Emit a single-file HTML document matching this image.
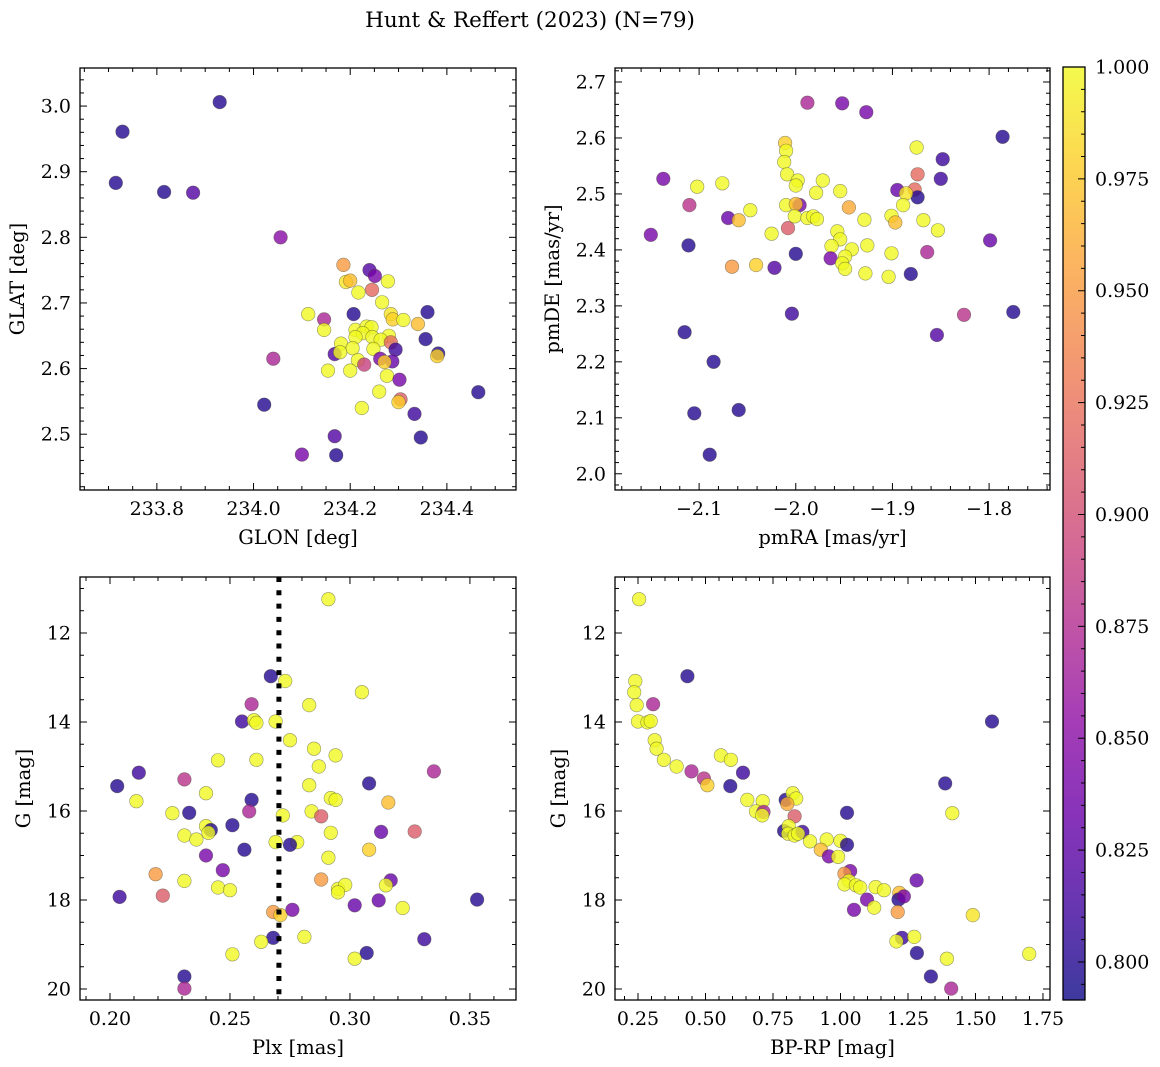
<!DOCTYPE html>
<html><head><meta charset="utf-8"><style>
body{margin:0;background:#fff;}
svg{display:block;font-family:"DejaVu Serif","Liberation Serif",serif;}
</style></head><body>
<svg id="fig" width="1160" height="1067" viewBox="0 0 1160 1067" xmlns="http://www.w3.org/2000/svg">
<text x="530" y="27" font-size="21.5" text-anchor="middle">Hunt &amp; Reffert (2023) (N=79)</text>
</svg>
<script>
// Panel 1: GLON vs GLAT
const glon1=[233.729,233.715,233.930,233.815,233.875,234.056,234.186,234.240,234.251,234.191,234.200,234.278,234.245,234.217,234.266,234.113,234.207,234.360,234.284,234.146,234.288,234.310,234.340,234.146,234.211,234.234,234.244,234.226,234.246,234.211,234.280,234.356,234.263,234.284,234.181,234.205,234.248,234.294,234.168,234.179,234.382,234.380,234.216,234.041,234.262,234.287,234.271,234.229,234.154,234.200,234.276,234.302,234.465,234.260,234.304,234.300,234.224,234.022,234.333,234.168,234.346,234.100,234.171];
const glat1=[2.961,2.883,3.006,2.869,2.868,2.800,2.758,2.750,2.741,2.732,2.734,2.733,2.720,2.716,2.701,2.683,2.683,2.686,2.683,2.675,2.675,2.674,2.668,2.659,2.659,2.664,2.663,2.654,2.648,2.648,2.650,2.645,2.644,2.640,2.638,2.631,2.630,2.629,2.622,2.625,2.623,2.619,2.613,2.615,2.615,2.611,2.610,2.606,2.597,2.597,2.589,2.583,2.564,2.565,2.553,2.549,2.540,2.545,2.531,2.497,2.495,2.469,2.468];
const prob1=[.80,.80,.80,.80,.82,.85,.95,.82,.84,.99,.97,1,.92,1,1,1,.80,.80,.99,.87,.98,1,.97,1,1,1,1,1,1,1,1,.80,1,.92,1,1,1,.81,.82,1,.80,.98,1,.87,.84,.83,.98,.89,1,1,1,.84,.80,1,.91,.98,1,.80,.81,.82,.80,.84,.80];
// Panel 2: pmRA vs pmDE
const pmra2=[-1.988,-1.952,-1.927,-1.786,-1.875,-2.011,-2.010,-2.012,-1.848,-2.137,-2.102,-2.076,-2.009,-1.998,-1.972,-2.000,-1.979,-1.954,-1.874,-1.850,-1.895,-1.877,-1.874,-1.886,-2.110,-2.070,-2.059,-2.047,-2.010,-1.996,-2.000,-2.001,-1.988,-1.982,-1.978,-1.945,-1.929,-1.901,-1.897,-1.889,-1.868,-1.853,-2.150,-2.111,-2.025,-2.008,-1.957,-1.954,-1.963,-1.942,-2.000,-1.926,-1.901,-1.864,-1.799,-1.964,-1.949,-1.952,-1.949,-2.066,-2.041,-2.022,-1.928,-1.904,-1.881,-2.004,-1.826,-1.775,-2.115,-1.854,-2.085,-2.105,-2.059,-2.089];
const pmde2=[2.663,2.662,2.646,2.602,2.583,2.591,2.577,2.557,2.562,2.527,2.513,2.519,2.535,2.524,2.524,2.515,2.502,2.505,2.535,2.527,2.507,2.508,2.494,2.501,2.480,2.457,2.453,2.471,2.480,2.480,2.482,2.460,2.457,2.460,2.455,2.476,2.454,2.461,2.449,2.480,2.453,2.435,2.427,2.408,2.429,2.439,2.433,2.419,2.407,2.401,2.393,2.408,2.394,2.396,2.417,2.385,2.388,2.376,2.366,2.370,2.373,2.368,2.358,2.352,2.357,2.286,2.284,2.289,2.253,2.248,2.200,2.108,2.114,2.034];
const prob2=[.87,.84,.84,.80,1,.98,1,1,.81,.84,1,1,1,1,1,1,1,1,.92,.81,.83,.92,.80,.99,.88,.83,.97,1,1,.84,.97,1,1,1,1,.96,1,1,.97,1,1,1,.84,.80,1,.91,1,1,1,1,.80,1,1,.87,.83,.84,1,1,1,.95,.98,.82,1,1,.80,.81,.88,.80,.80,.82,.80,.80,.80,.80];
// Panel 3: Plx vs G
const plx3=[0.291,0.267,0.273,0.305,0.259,0.283,0.255,0.260,0.261,0.269,0.275,0.285,0.294,0.245,0.261,0.287,0.212,0.335,0.203,0.231,0.308,0.240,0.283,0.259,0.292,0.294,0.211,0.316,0.226,0.233,0.258,0.284,0.272,0.288,0.251,0.240,0.242,0.241,0.231,0.236,0.292,0.313,0.327,0.269,0.278,0.275,0.256,0.308,0.240,0.291,0.247,0.219,0.231,0.288,0.317,0.315,0.245,0.250,0.295,0.298,0.295,0.204,0.222,0.353,0.312,0.302,0.322,0.268,0.271,0.276,0.268,0.263,0.281,0.331,0.251,0.307,0.302,0.231,0.231];
const gmag3=[11.24,12.97,13.08,13.33,13.60,13.62,13.99,13.96,14.02,13.99,14.41,14.60,14.75,14.86,14.85,15.00,15.14,15.11,15.44,15.29,15.38,15.60,15.42,15.75,15.71,15.75,15.78,15.81,16.05,16.04,16.01,16.01,16.10,16.12,16.32,16.34,16.43,16.49,16.55,16.64,16.49,16.47,16.46,16.70,16.70,16.76,16.87,16.87,17.00,17.05,17.33,17.42,17.57,17.54,17.56,17.67,17.72,17.78,17.75,17.66,17.83,17.93,17.90,17.99,18.01,18.12,18.18,18.27,18.34,18.22,18.85,18.94,18.83,18.88,19.22,19.19,19.32,19.72,19.99];
const prob3=[1,.80,1,1,.87,1,.81,1,1,1,1,1,1,1,1,1,.81,.87,.80,.88,.80,1,1,.80,1,1,1,.97,1,.80,.87,1,1,.91,.80,1,.80,1,1,1,1,.83,.91,1,1,.80,.80,.98,.84,1,.84,.95,1,.95,.83,1,1,1,1,1,1,.81,.91,.80,.83,.83,1,.95,.98,.84,.80,1,1,.81,1,.80,1,.80,.87];
const plxLine=[0.2704];
// Panel 4: BP-RP vs G
const bprp4=[0.254,0.433,0.240,0.236,0.306,0.245,0.250,0.285,0.297,1.561,0.312,0.319,0.346,0.557,0.594,0.393,0.448,0.639,0.494,0.507,0.592,1.388,0.655,0.712,0.797,0.823,0.836,0.803,0.687,0.715,0.710,1.024,1.414,0.830,0.791,0.808,0.806,0.830,0.859,0.843,0.887,0.949,1.000,1.024,0.927,0.957,0.991,1.036,1.015,1.031,1.015,1.057,1.073,1.130,1.161,1.282,1.218,1.215,1.235,1.098,1.125,1.050,1.212,1.490,1.228,1.207,1.273,1.283,1.394,1.699,1.335,1.410];
const gmag4=[11.24,12.97,13.08,13.33,13.60,13.62,13.99,14.01,13.98,13.99,14.41,14.60,14.85,14.75,14.85,15.00,15.11,15.14,15.27,15.42,15.44,15.38,15.75,15.78,15.75,15.60,15.72,15.84,16.01,16.02,16.10,16.04,16.05,16.12,16.45,16.34,16.51,16.55,16.47,16.51,16.68,16.64,16.67,16.76,16.87,17.02,17.03,17.35,17.41,17.57,17.65,17.67,17.72,17.71,17.78,17.56,17.84,17.99,17.92,17.99,18.17,18.22,18.27,18.34,18.85,18.93,18.83,19.19,19.32,19.21,19.72,19.99];
const prob4=[1,.80,1,1,.87,1,1,1,1,.80,1,1,1,1,1,1,.87,.81,.88,.98,.80,.80,1,1,.80,1,1,.96,1,.87,1,.80,1,.91,.80,1,1,1,.81,1,1,1,1,.80,.97,.84,1,.84,.95,1,1,1,1,1,1,.83,.97,.80,.84,.84,1,.84,.95,.99,.81,1,1,.80,1,1,.80,.87];
const cbTicks=[0.800,0.825,0.850,0.875,0.900,0.925,0.950,0.975,1.000];

const svg=document.getElementById('fig');
const NS='http://www.w3.org/2000/svg';
const VMIN=0.7915,VMAX=1.0;
const TICKFS=19, LABELFS=19.5;
const plasma=[[13,8,135],[65,4,157],[106,0,168],[143,13,164],[177,42,144],[204,71,120],[225,100,98],[242,132,75],[252,166,54],[252,206,37],[240,249,33]];
function cmap(v){let t=(v-VMIN)/(VMAX-VMIN);t=Math.max(0,Math.min(1,t))*10;const i=Math.min(9,Math.floor(t));const f=t-i;const a=plasma[i],b=plasma[i+1];return 'rgb('+[0,1,2].map(k=>Math.round(a[k]+(b[k]-a[k])*f)).join(',')+')';}
function mk(tag,attrs,parent){const e=document.createElementNS(NS,tag);for(const k in attrs)e.setAttribute(k,attrs[k]);(parent||svg).appendChild(e);return e;}
function fmt(v,d){return v.toFixed(d).replace('-','\u2212');}

function panel(cfg){
  const {x0,x1,y0,y1,xmin,xmax,ymin,ymax,inv}=cfg;
  const g=mk('g',{});
  
  
  const sx=v=>x0+(v-xmin)/(xmax-xmin)*(x1-x0);
  const sy=inv?(v=>y0+(v-ymin)/(ymax-ymin)*(y1-y0)):(v=>y1-(v-ymin)/(ymax-ymin)*(y1-y0));
  const pg=mk('g',{},g);
  
  
  for(let i=0;i<cfg.xs.length;i++){
    const c=mk('circle',{cx:sx(cfg.xs[i]).toFixed(1),cy:sy(cfg.ys[i]).toFixed(1),r:6.8,fill:cmap(cfg.ps[i]),'fill-opacity':0.8,stroke:'rgba(70,70,50,0.55)','stroke-width':0.6},pg);
    
    
  }
  if(cfg.vline){
    const l=mk('line',{x1:sx(cfg.vline[0]),x2:sx(cfg.vline[0]),y1:y0,y2:y1,stroke:'#000','stroke-width':5,'stroke-dasharray':'5,8.3'},g);
    
    
  }
  const tg=mk('g',{stroke:'#000','stroke-width':1},g);
  
  
  const eps=1e-9;
  for(let v=Math.ceil(xmin/cfg.xminor-eps)*cfg.xminor;v<=xmax+eps;v+=cfg.xminor){
    const X=sx(v);const major=Math.abs(v/cfg.xmajor-Math.round(v/cfg.xmajor))<1e-6;const L=major?7:4;
    mk('line',{x1:X,x2:X,y1:y1,y2:y1-L},tg);mk('line',{x1:X,x2:X,y1:y0,y2:y0+L},tg);
    if(major){const t=mk('text',{x:X,y:y1+25,'font-size':TICKFS,'text-anchor':'middle',stroke:'none',fill:'#000'},g);t.textContent=fmt(v,cfg.xd);
      
      }
  }
  for(let v=Math.ceil(Math.min(ymin,ymax)/cfg.yminor-eps)*cfg.yminor;v<=Math.max(ymin,ymax)+eps;v+=cfg.yminor){
    const Y=sy(v);const major=Math.abs(v/cfg.ymajor-Math.round(v/cfg.ymajor))<1e-6;const L=major?7:4;
    mk('line',{x1:x0,x2:x0+L,y1:Y,y2:Y},tg);mk('line',{x1:x1,x2:x1-L,y1:Y,y2:Y},tg);
    if(major){const t=mk('text',{x:x0-9,y:Y+6.5,'font-size':TICKFS,'text-anchor':'end',stroke:'none',fill:'#000'},g);t.textContent=fmt(v,cfg.yd);
      
      }
  }
  const fr=mk('rect',{x:x0,y:y0,width:x1-x0,height:y1-y0,fill:'none',stroke:'#000','stroke-width':1.3},g);
  
  
  const xl=mk('text',{x:(x0+x1)/2,y:y1+54,'font-size':LABELFS,'text-anchor':'middle'},g);xl.textContent=cfg.xlabel;
  
  
  const yx=x0-cfg.ylo, yy=(y0+y1)/2;
  const yl=mk('text',{x:yx,y:yy,'font-size':LABELFS,'text-anchor':'middle',transform:'rotate(-90 '+yx+' '+yy+')'},g);yl.textContent=cfg.ylabel;
  
  
}

panel({name:'glon-glat-panel',x0:80,x1:516,y0:68,y1:490,xmin:233.641,xmax:234.543,ymin:2.415,ymax:3.058,xs:glon1,ys:glat1,ps:prob1,xmajor:0.2,xminor:0.05,ymajor:0.1,yminor:0.02,xd:1,yd:1,xlabel:'GLON [deg]',ylabel:'GLAT [deg]',ylo:56});
panel({name:'proper-motion-panel',x0:615,x1:1050,y0:68,y1:490,xmin:-2.187,xmax:-1.737,ymin:1.971,ymax:2.725,xs:pmra2,ys:pmde2,ps:prob2,xmajor:0.1,xminor:0.02,ymajor:0.1,yminor:0.02,xd:1,yd:1,xlabel:'pmRA [mas/yr]',ylabel:'pmDE [mas/yr]',ylo:56});
panel({name:'parallax-mag-panel',x0:80,x1:516,y0:577,y1:1000,xmin:0.1875,xmax:0.3692,ymin:10.742,ymax:20.247,inv:true,xs:plx3,ys:gmag3,ps:prob3,vline:plxLine,xmajor:0.05,xminor:0.01,ymajor:2,yminor:0.5,xd:2,yd:0,xlabel:'Plx [mas]',ylabel:'G [mag]',ylo:50});
panel({name:'cmd-panel',x0:615,x1:1050,y0:577,y1:1000,xmin:0.1648,xmax:1.776,ymin:10.742,ymax:20.247,inv:true,xs:bprp4,ys:gmag4,ps:prob4,xmajor:0.25,xminor:0.05,ymajor:2,yminor:0.5,xd:2,yd:0,xlabel:'BP-RP [mag]',ylabel:'G [mag]',ylo:50});

const cb=mk('g',{});


const defs=mk('defs',{},cb);
const lg=mk('linearGradient',{id:'cbg',x1:0,y1:1,x2:0,y2:0},defs);
for(let i=0;i<=20;i++){const v=VMIN+(VMAX-VMIN)*i/20;mk('stop',{offset:(i/20),'stop-color':cmap(v),'stop-opacity':0.8},lg);}
const CX0=1063,CX1=1085,CY0=67,CY1=1000;
const cy=v=>CY1-(v-VMIN)/(VMAX-VMIN)*(CY1-CY0);
mk('rect',{x:CX0,y:CY0,width:CX1-CX0,height:CY1-CY0,fill:'url(#cbg)',stroke:'#000','stroke-width':1.3},cb);
for(let v=0.795;v<=1.0001;v+=0.005){
  const Y=cy(v);const major=Math.abs(v*40-Math.round(v*40))<1e-6;
  mk('line',{x1:CX1,x2:CX1-(major?7:4),y1:Y,y2:Y,stroke:'#000','stroke-width':1},cb);
}
cbTicks.forEach(v=>{const t=mk('text',{x:CX1+10,y:cy(v)+6.5,'font-size':TICKFS},cb);t.textContent=v.toFixed(3);
  
  });
</script>
</body></html>
